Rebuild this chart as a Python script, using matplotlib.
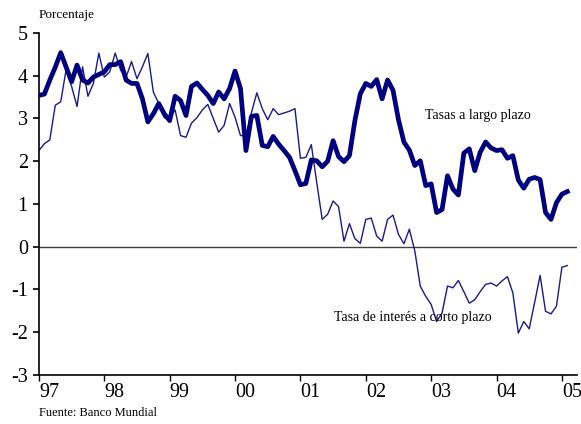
import numpy as np
import matplotlib
matplotlib.use('Agg')
from matplotlib import pyplot as plt

plt.rcParams['font.family'] = ['Liberation Serif', 'DejaVu Serif']

# monthly data, Jan 1997 - Feb 2005
start_year = 1997
largo = [3.54, 3.57, 3.9, 4.2, 4.54, 4.2, 3.86, 4.25, 3.9, 3.83, 3.97, 4.03,
         4.09, 4.26, 4.26, 4.33, 3.9, 3.82, 3.82, 3.46, 2.92, 3.11, 3.35, 3.11,
         2.95, 3.52, 3.42, 3.07, 3.75, 3.83, 3.68, 3.54, 3.35, 3.62, 3.46, 3.7,
         4.11, 3.7, 2.25, 3.05, 3.07, 2.37, 2.34, 2.58, 2.4, 2.25, 2.09, 1.78,
         1.45, 1.48, 2.03, 2.01, 1.87, 2.0, 2.48, 2.11, 1.99, 2.13, 2.95, 3.58,
         3.82, 3.75, 3.91, 3.46, 3.9, 3.66, 2.97, 2.45, 2.26, 1.9, 2.01, 1.43,
         1.47, 0.8, 0.87, 1.66, 1.35, 1.21, 2.19, 2.29, 1.78, 2.21, 2.45, 2.31,
         2.25, 2.27, 2.07, 2.13, 1.56, 1.37, 1.58, 1.62, 1.57, 0.8, 0.64, 1.03,
         1.23, 1.29]
corto = [2.25, 2.41, 2.5, 3.31, 3.39, 4.15, 3.75, 3.28, 4.21, 3.52, 3.82, 4.53,
         3.97, 4.09, 4.53, 4.13, 3.97, 4.33, 3.93, 4.21, 4.52, 3.62, 3.35, 3.02,
         3.0, 3.2, 2.6, 2.56, 2.89, 3.02, 3.2, 3.33, 3.0, 2.68, 2.84, 3.35,
         3.03, 2.6, 2.6, 3.13, 3.6, 3.23, 2.97, 3.23, 3.09, 3.13, 3.17, 3.23,
         2.07, 2.09, 2.39, 1.5, 0.64, 0.76, 1.07, 0.94, 0.13, 0.54, 0.19, 0.08,
         0.64, 0.67, 0.25, 0.13, 0.64, 0.74, 0.29, 0.07, 0.41, -0.1, -0.92, -1.16,
         -1.35, -1.75, -1.55, -0.92, -0.96, -0.79, -1.05, -1.32, -1.24, -1.05, -0.88, -0.85,
         -0.92, -0.8, -0.7, -1.08, -2.02, -1.75, -1.92, -1.3, -0.67, -1.51, -1.57, -1.39,
         -0.48, -0.44]
year_ticks = [1997, 1998, 1999, 2000, 2001, 2002, 2003, 2004, 2005]
year_labels = ['97', '98', '99', '00', '01', '02', '03', '04', '05']
y_ticks = [-3, -2, -1, 0, 1, 2, 3, 4, 5]

x = start_year + np.arange(len(largo)) / 12.0

fig = plt.figure(figsize=(5.81, 4.24), dpi=100)
ax = fig.add_axes([0.067, 0.1156, 0.926, 0.8066])

ax.axhline(0, color='#404040', lw=1.0, zorder=1)
ax.plot(x, corto, color='#1a1a8c', lw=1.0, zorder=2)
ax.plot(x, largo, color='#000080', lw=3.4, solid_joinstyle='round', zorder=3)

ax.set_xlim(1997, 2005.23)
ax.set_ylim(-3, 5)
ax.set_yticks(y_ticks)
ax.set_yticklabels([str(v) for v in y_ticks], fontsize=14.5)
ax.set_xticks(year_ticks)
ax.set_xticklabels(year_labels, fontsize=14.5, ha='left')

for s in ['top', 'right']:
    ax.spines[s].set_visible(False)
for s in ['left', 'bottom']:
    ax.spines[s].set_linewidth(1.2)
ax.tick_params(axis='y', direction='out', length=4, width=1.2, pad=4)
ax.tick_params(axis='x', direction='out', length=4, width=1.0, pad=2)

ax.text(2002.9, 3.07, 'Tasas a largo plazo', fontsize=10, ha='left', va='center')
ax.text(2001.51, -1.65, 'Tasa de interés a corto plazo', fontsize=10, ha='left', va='center')

fig.text(39 / 581, 1 - 15 / 424, 'Porcentaje', fontsize=9.5, ha='left', va='center')
fig.text(39 / 581, 1 - 413 / 424, 'Fuente: Banco Mundial', fontsize=9, ha='left', va='center')

fig.savefig('out.png', dpi=100)
